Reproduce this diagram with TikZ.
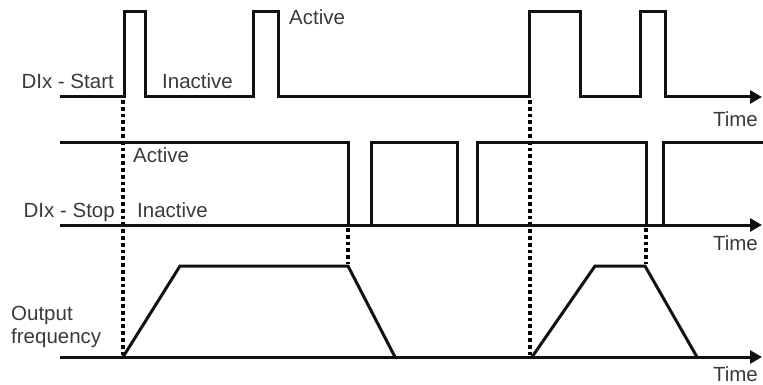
\documentclass[tikz,border=0pt]{standalone}
\usepackage{fontspec}
\setmainfont{Liberation Sans}
\usetikzlibrary{arrows.meta}
\definecolor{txt}{HTML}{3A3A3A}
\definecolor{ln}{HTML}{111111}
\tikzset{
  sig/.style={draw=ln, line width=3pt, line join=miter},
  axis/.style={draw=ln, line width=3pt, -{Triangle[length=12pt,width=13pt]}},
  dots/.style={draw=black, line width=3.6pt, dash pattern=on 3.8pt off 3pt},
  lbl/.style={text=txt, font=\fontsize{20.5}{24}\selectfont, inner sep=0pt},
}
\begin{document}
\begin{tikzpicture}[x=1pt,y=-1pt]
\useasboundingbox (0,0) rectangle (763,385);
% dotted guides
\draw[dots] (123,100) -- (123,355);
\draw[dots] (530,100) -- (530,355);
\draw[dots] (348,228) -- (348,264);
\draw[dots] (646,228) -- (646,264);
% DIx - Start
\draw[sig] (60,97) -| (124,12) -| (145,97) -| (253,12) -| (278,97) -| (529,12) -| (580,97) -| (640,12) -| (665,97) -- (752,97);
\draw[axis] (740,97) -- (762,97);
% DIx - Stop
\draw[sig] (60,143) -| (348,225) -| (371,143) -| (457,225) -| (477,143) -| (646,225) -| (663,143) -- (763,143);
\draw[axis] (60,225) -- (762,225);
% Output frequency
\draw[axis] (60,357) -- (762,357);
\draw[sig] (123,357) -- (180,266) -- (348,266) -- (395,357);
\draw[sig] (532,357) -- (595,266) -- (645,266) -- (697,357);
% labels
\node[lbl, anchor=base east] (start) at (114,89) {DIx - Start};
\node[lbl, anchor=base west] (inact1) at (162,89) {Inactive};
\node[lbl, anchor=base west] (act1) at (289,25) {Active};
\node[lbl, anchor=base east] (time1) at (758,127) {Time};
\node[lbl, anchor=base west] (act2) at (133,163) {Active};
\node[lbl, anchor=base east] (stop) at (115,217) {DIx - Stop};
\node[lbl, anchor=base west] (inact2) at (137,217) {Inactive};
\node[lbl, anchor=base east] (time2) at (758,250) {Time};
\node[lbl, anchor=base west] (out1) at (11,320) {Output};
\node[lbl, anchor=base west] (out2) at (11,343) {frequency};
\node[lbl, anchor=base east] (time3) at (758,381) {Time};
\end{tikzpicture}
\end{document}
